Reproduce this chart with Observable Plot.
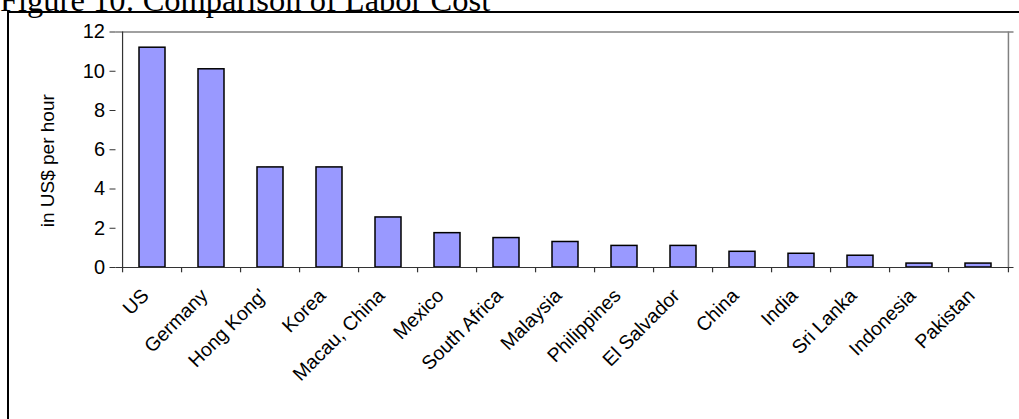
<!DOCTYPE html>
<html>
<head>
<meta charset="utf-8">
<script src="https://cdn.jsdelivr.net/npm/d3@7"></script>
<script src="https://cdn.jsdelivr.net/npm/@observablehq/plot@0.6"></script>
<style>
  html, body { margin: 0; padding: 0; background: #fff; overflow: hidden; }
  #wrap { position: relative; width: 1019px; height: 419px; overflow: hidden; }
  #title { position: absolute; left: 0; top: -16px; font-family: "Liberation Serif", "Times New Roman", serif; font-size: 32.5px; line-height: 32px; white-space: nowrap; color: #000; }
  #box { position: absolute; left: 7px; top: 11px; width: 1100px; height: 500px; border: 2px solid #000; box-sizing: border-box; }
  #chart { position: absolute; left: 0; top: 0; }
</style>
</head>
<body>
<div id="wrap">
  <div id="box"></div>
  <div id="title">Figure 10: Comparison of Labor Cost</div>
  <div id="chart"></div>
</div>
<script>
const countries = ["US", "Germany", "Hong Kong'", "Korea", "Macau, China", "Mexico", "South Africa", "Malaysia", "Philippines", "El Salvador", "China", "India", "Sri Lanka", "Indonesia", "Pakistan"];
const costs = [11.2, 10.1, 5.1, 5.1, 2.55, 1.75, 1.5, 1.3, 1.1, 1.1, 0.8, 0.7, 0.6, 0.2, 0.2];
const yTicks = [0, 2, 4, 6, 8, 10, 12];
const yLabel = "in US$ per hour";

const data = countries.map((c, i) => ({country: c, cost: costs[i]}));

const W = 1019, H = 419;
const mL = 115.5, mR = 5.5, mT = 31.5, mB = 152;
const step = (W - mL - mR) / countries.length;
const last = countries[countries.length - 1];

const chart = Plot.plot({
  width: W,
  height: H,
  marginLeft: mL,
  marginRight: mR,
  marginTop: mT,
  marginBottom: mB,
  style: {fontFamily: "'Liberation Sans', Arial, sans-serif", fontSize: "16px", background: "transparent", color: "#000"},
  x: {domain: countries, paddingInner: 0.56, paddingOuter: 0.28, axis: null},
  y: {domain: [0, 12], axis: null},
  marks: [
    // plot-area frame (top and right, gray)
    Plot.ruleY([12], {stroke: "#808080", strokeWidth: 1.5}),
    Plot.ruleX([last], {dx: step / 2, y1: 0, y2: 12, stroke: "#808080", strokeWidth: 1.5}),
    Plot.barY(data, {x: "country", y: "cost", fill: "#9999FF", stroke: "#000", strokeWidth: 1.5}),
    // axes lines
    Plot.ruleY([0], {stroke: "#333", strokeWidth: 1.2}),
    Plot.ruleX([countries[0]], {dx: -step / 2, y1: 0, y2: 12, stroke: "#333", strokeWidth: 1.2}),
    // x boundary ticks
    Plot.ruleX(countries, {x: d => d, dx: -step / 2, y1: 0, y2: -0.27, stroke: "#333", strokeWidth: 1.2}),
    Plot.ruleX([last], {x: d => d, dx: step / 2, y1: 0, y2: -0.27, stroke: "#333", strokeWidth: 1.2}),
    // y axis tick marks
    Plot.axisY({ticks: yTicks, tickSize: 6, tickFormat: () => "", label: null, stroke: "#333"}),
    // y tick labels
    Plot.text(yTicks, {y: d => d, text: d => String(d), frameAnchor: "left", textAnchor: "end", dx: -11, fontSize: 20, fill: "#000"}),
    // x labels rotated
    Plot.text(countries, {x: d => d, y: 0, text: d => d, rotate: -45, textAnchor: "end", dx: -7, dy: 25, fontSize: 19.5, fill: "#000"}),
    // y axis title
    Plot.text([yLabel], {frameAnchor: "left", textAnchor: "middle", rotate: -90, dx: -68, dy: 11, fontSize: 19, fill: "#000"})
  ]
});
document.getElementById("chart").appendChild(chart);
</script>
</body>
</html>
